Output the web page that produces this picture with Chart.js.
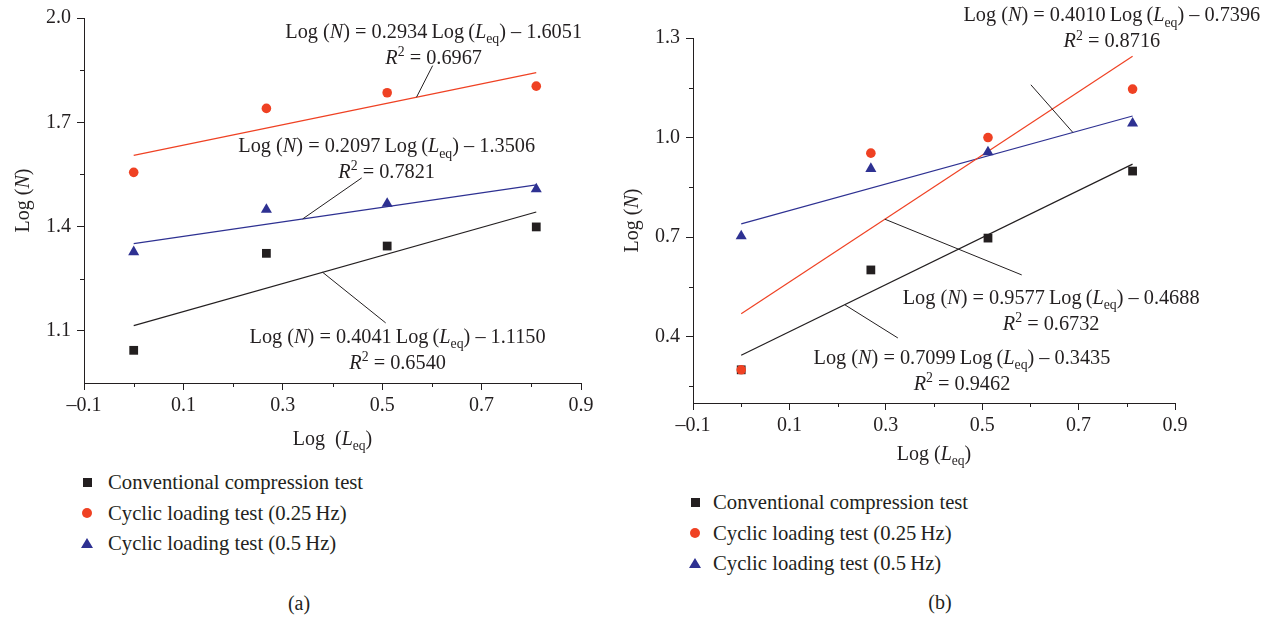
<!DOCTYPE html>
<html><head><meta charset="utf-8">
<script src="https://cdn.jsdelivr.net/npm/chart.js@4.4.0/dist/chart.umd.min.js"></script>
<style>
body{margin:0;background:#fff;width:1274px;height:617px;overflow:hidden;position:relative;font-family:"Liberation Serif",serif;color:#231f20}
#ca{position:absolute;left:0;top:0}
#cb{position:absolute;left:620px;top:0}
.legend{position:absolute;font-size:20.7px;line-height:30.5px;white-space:nowrap}
.row{display:flex;align-items:center;height:30.5px}
.mk{width:14px;display:flex;justify-content:center;align-items:center}
.sq{width:9px;height:9px;background:#231f20}
.ci{width:10px;height:10px;border-radius:50%;background:#ef4123}
.tr{width:0;height:0;border-left:6px solid transparent;border-right:6px solid transparent;border-bottom:10px solid #2e3192}
.cap{position:absolute;font-size:20px;transform:translate(-50%,-50%)}
</style></head>
<body>
<canvas id="ca" width="620" height="460"></canvas>
<canvas id="cb" width="654" height="470"></canvas>
<div class="legend" id="lega" style="left:80px;top:467px"></div>
<div class="legend" id="legb" style="left:688px;top:487px"></div>
<div class="cap" style="left:299px;top:603px">(a)</div>
<div class="cap" style="left:940px;top:602px">(b)</div>
<script>
// ---- data: chart (a)
const seriesNames = ['Conventional compression test','Cyclic loading test (0.25\u2009Hz)','Cyclic loading test (0.5\u2009Hz)'];
const xTicksA = [-0.1,0.1,0.3,0.5,0.7,0.9];
const xTickLabelsA = ['\u20130.1','0.1','0.3','0.5','0.7','0.9'];
const yTicksA = [1.1,1.4,1.7,2.0];
const yTickLabelsA = ['1.1','1.4','1.7','2.0'];
const xA = [0, 0.267, 0.510, 0.810];
const convA = [1.044, 1.323, 1.344, 1.399];
const cyc025A = [1.556, 1.740, 1.785, 1.804];
const cyc05A = [1.327, 1.449, 1.466, 1.508];
const fitXA = [0, 0.810];
const fitConvA = [1.115, 1.442];
const fitC025A = [1.605, 1.843];
const fitC05A = [1.351, 1.520];
// ---- data: chart (b)
const xTicksB = [-0.1,0.1,0.3,0.5,0.7,0.9];
const xTickLabelsB = ['\u20130.1','0.1','0.3','0.5','0.7','0.9'];
const yTicksB = [0.4,0.7,1.0,1.3];
const yTickLabelsB = ['0.4','0.7','1.0','1.3'];
const xB = [0, 0.269, 0.512, 0.812];
const convB = [0.300, 0.601, 0.697, 0.899];
const cyc025B = [0.300, 0.953, 1.000, 1.146];
const cyc05B = [0.703, 0.906, 0.956, 1.043];
const fitXB = [0, 0.812];
const fitConvB = [0.344, 0.920];
const fitC025B = [0.469, 1.245];
const fitC05B = [0.740, 1.065];

const BLACK='#231f20', RED='#ef4123', BLUE='#2e3192';
const FONT='"Liberation Serif", serif';
Chart.defaults.font.family = FONT;
Chart.defaults.font.size = 20;
Chart.defaults.color = BLACK;

function pts(xs, ys){ return xs.map((x,i)=>({x, y: ys[i]})); }
function fontFor(p,size){ const s=(p.sub||p.sup)?size*0.68:size; return (p.it?'italic ':'')+s+'px '+FONT; }
function drawRich(ctx, parts, cx, cy, size){
  let w=0; parts.forEach(p=>{ctx.font=fontFor(p,size); w+=ctx.measureText(p.t).width;});
  let x=cx-w/2; const base=cy+size*0.33;
  ctx.textBaseline='alphabetic'; ctx.textAlign='left'; ctx.fillStyle=BLACK;
  parts.forEach(p=>{ctx.font=fontFor(p,size); let y=base; if(p.sub) y+=size*0.28; if(p.sup) y-=size*0.38; ctx.fillText(p.t,x,y); x+=ctx.measureText(p.t).width;});
}
function eqParts(s,b){ return [{t:'Log ('},{t:'N',it:1},{t:') = '+s+'\u2009Log\u2009('},{t:'L',it:1},{t:'eq',sub:1},{t:') \u2013 '+b}]; }
function r2Parts(v){ return [{t:'R',it:1},{t:'2',sup:1},{t:' = '+v}]; }

const overlay = {
  id:'overlay',
  afterDraw(chart, args, o){
    const ctx=chart.ctx, xs=chart.scales.x, ys=chart.scales.y, ca=chart.chartArea;
    ctx.save();
    ctx.strokeStyle=BLACK; ctx.lineWidth=1;
    o.minorX.forEach(v=>{const p=Math.round(xs.getPixelForValue(v))+0.5; ctx.beginPath(); ctx.moveTo(p,ca.bottom); ctx.lineTo(p,ca.bottom+4); ctx.stroke();});
    o.minorY.forEach(v=>{const p=Math.round(ys.getPixelForValue(v))+0.5; ctx.beginPath(); ctx.moveTo(ca.left,p); ctx.lineTo(ca.left-4,p); ctx.stroke();});
    o.notes.forEach(n=>{
      ctx.beginPath();
      ctx.moveTo(xs.getPixelForValue(n.leader[0][0]), ys.getPixelForValue(n.leader[0][1]));
      ctx.lineTo(xs.getPixelForValue(n.leader[1][0]), ys.getPixelForValue(n.leader[1][1]));
      ctx.stroke();
      const cx=xs.getPixelForValue(n.at[0]), cy=ys.getPixelForValue(n.at[1]);
      drawRich(ctx, eqParts(n.eq[0],n.eq[1]), cx, cy, 20.3);
      drawRich(ctx, r2Parts(n.r2), cx, cy+26, 20.3);
    });
    drawRich(ctx, [{t:o.xTitleLead},{t:'L',it:1},{t:'eq',sub:1},{t:')'}], (ca.left+ca.right)/2, ca.bottom+o.xTitleGap, 20);
    ctx.translate(ca.left-62, (ca.top+ca.bottom)/2); ctx.rotate(-Math.PI/2);
    drawRich(ctx, [{t:'Log ('},{t:'N',it:1},{t:')'}], 0, 0, 20);
    ctx.restore();
  }
};

function makeChart(id, cfg){
  const sc = (ticks, labels, min, max, axis, size) => ({
    type:'linear', min, max,
    border:{display:true,color:BLACK,width:1},
    grid:{display:true,drawOnChartArea:false,drawTicks:true,tickLength:7,tickColor:BLACK,tickWidth:1},
    ticks:{color:BLACK,padding: axis==='x'?4:6, font:{size:20,family:FONT},
      callback:(v)=>{const i=ticks.findIndex(t=>Math.abs(t-v)<1e-9); return i>=0?labels[i]:'';}},
    afterBuildTicks:(s)=>{s.ticks=ticks.map(v=>({value:v}));},
    afterFit:(s)=>{ if(axis==='x') s.height=size; else s.width=size; }
  });
  const line=(xs,ys,c)=>({type:'line',data:pts(xs,ys),borderColor:c,borderWidth:1.2,pointRadius:0,fill:false,order:10});
  return new Chart(document.getElementById(id),{
    type:'scatter',
    data:{datasets:[
      line(cfg.fitX,cfg.fitConv,BLACK), line(cfg.fitX,cfg.fitC025,RED), line(cfg.fitX,cfg.fitC05,BLUE),
      {label:seriesNames[0],data:pts(cfg.x,cfg.conv),pointStyle:'rect',pointRadius:6.2,backgroundColor:BLACK,borderColor:BLACK,borderWidth:0,order:3},
      {label:seriesNames[1],data:pts(cfg.x,cfg.c025),pointStyle:'circle',pointRadius:4.8,backgroundColor:RED,borderColor:RED,borderWidth:0,order:2},
      {label:seriesNames[2],data:pts(cfg.x,cfg.c05),pointStyle:'triangle',pointRadius:6.4,backgroundColor:BLUE,borderColor:BLUE,borderWidth:0,order:1}
    ]},
    options:{
      responsive:false, animation:false, devicePixelRatio:1,
      layout:{padding:cfg.pad},
      plugins:{legend:{display:false},tooltip:{enabled:false},overlay:cfg.overlay},
      scales:{
        x:sc(cfg.xTicks,cfg.xLabels,-0.1,0.9,'x',cfg.xh),
        y:sc(cfg.yTicks,cfg.yLabels,cfg.ymin,cfg.ymax,'y',cfg.yw)
      }
    },
    plugins:[overlay]
  });
}

makeChart('ca',{
  x:xA, conv:convA, c025:cyc025A, c05:cyc05A, fitX:fitXA, fitConv:fitConvA, fitC025:fitC025A, fitC05:fitC05A,
  xTicks:xTicksA, xLabels:xTickLabelsA, yTicks:yTicksA, yLabels:yTickLabelsA, ymin:0.95, ymax:2.0,
  pad:{top:17,right:39,left:0,bottom:0}, xh:77, yw:84,
  overlay:{minorX:[0,0.2,0.4,0.6,0.8], minorY:[1.25,1.55,1.85], xTitleLead:'Log\u2002(', xTitleGap:55,
    notes:[
      {eq:['0.2934','1.6051'], r2:'0.6967', at:[0.6035,1.963], leader:[[0.6015,1.863],[0.569,1.772]]},
      {eq:['0.2097','1.3506'], r2:'0.7821', at:[0.509,1.634], leader:[[0.4588,1.54],[0.34,1.422]]},
      {eq:['0.4041','1.1150'], r2:'0.6540', at:[0.531,1.0857], leader:[[0.507,1.1229],[0.380,1.2686]]}
    ]}
});
makeChart('cb',{
  x:xB, conv:convB, c025:cyc025B, c05:cyc05B, fitX:fitXB, fitConv:fitConvB, fitC025:fitC025B, fitC05:fitC05B,
  xTicks:xTicksB, xLabels:xTickLabelsB, yTicks:yTicksB, yLabels:yTickLabelsB, ymin:0.2, ymax:1.3,
  pad:{top:38,right:99,left:0,bottom:0}, xh:67, yw:73,
  overlay:{minorX:[0,0.2,0.4,0.6,0.8], minorY:[0.25,0.55,0.85,1.15], xTitleLead:'Log (', xTitleGap:50,
    notes:[
      {eq:['0.4010','0.7396'], r2:'0.8716', at:[0.769,1.37], leader:[[0.601,1.159],[0.688,1.0155]]},
      {eq:['0.9577','0.4688'], r2:'0.6732', at:[0.643,0.5197], leader:[[0.298,0.754],[0.582,0.586]]},
      {eq:['0.7099','0.3435'], r2:'0.9462', at:[0.458,0.339], leader:[[0.215,0.496],[0.325,0.396]]}
    ]}
});

function buildLegend(id, gap){
  const el=document.getElementById(id);
  ['sq','ci','tr'].forEach((c,i)=>{
    const r=document.createElement('div'); r.className='row';
    r.innerHTML='<span class="mk"><i class="'+c+'"></i></span><span style="margin-left:'+gap+'px">'+seriesNames[i]+'</span>';
    el.appendChild(r);
  });
}
buildLegend('lega',14);
buildLegend('legb',11);
</script>
</body></html>
